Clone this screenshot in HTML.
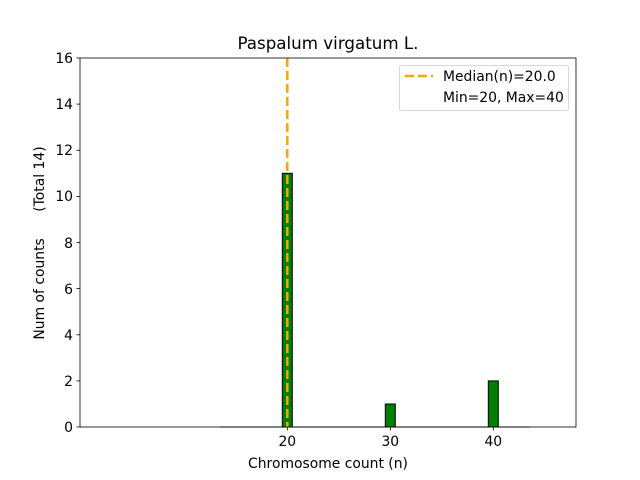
<!DOCTYPE html>
<html><head><style>body{margin:0;background:#fff}svg{display:block}text{font-family:"DejaVu Sans","Liberation Sans",sans-serif;font-size:13.9px;fill:#000}</style></head>
<body>
<svg width="640" height="480" xmlns="http://www.w3.org/2000/svg">
<rect width="640" height="480" fill="#fff"/>
<rect x="282.3" y="173.3" width="10" height="253.7" fill="#008000" stroke="#000" stroke-width="1"/>
<rect x="385.3" y="404" width="10" height="23" fill="#008000" stroke="#000" stroke-width="1"/>
<rect x="488.3" y="380.9" width="10" height="46.1" fill="#008000" stroke="#000" stroke-width="1"/>
<line x1="220" y1="427" x2="530" y2="427" stroke="#000" stroke-width="1"/>
<line x1="287.3" y1="58" x2="287.3" y2="427" stroke="#FFA500" stroke-width="2.5" stroke-dasharray="9,4"/>
<rect x="80" y="58" width="496" height="369" fill="none" stroke="#000" stroke-width="0.8"/>
<g stroke="#000" stroke-width="0.8">
<line x1="76.5" y1="427" x2="80" y2="427"/><line x1="76.5" y1="380.9" x2="80" y2="380.9"/>
<line x1="76.5" y1="334.8" x2="80" y2="334.8"/><line x1="76.5" y1="288.6" x2="80" y2="288.6"/>
<line x1="76.5" y1="242.5" x2="80" y2="242.5"/><line x1="76.5" y1="196.4" x2="80" y2="196.4"/>
<line x1="76.5" y1="150.3" x2="80" y2="150.3"/><line x1="76.5" y1="104.1" x2="80" y2="104.1"/>
<line x1="76.5" y1="58" x2="80" y2="58"/>
<line x1="287.3" y1="427" x2="287.3" y2="430.5"/><line x1="390.3" y1="427" x2="390.3" y2="430.5"/><line x1="493.3" y1="427" x2="493.3" y2="430.5"/>
</g>
<g text-anchor="end">
<text x="73" y="432">0</text><text x="73" y="386">2</text><text x="73" y="340">4</text>
<text x="73" y="294">6</text><text x="73" y="248">8</text><text x="73" y="201">10</text>
<text x="73" y="155">12</text><text x="73" y="109">14</text><text x="73" y="63">16</text>
</g>
<g text-anchor="middle">
<text x="287.3" y="446">20</text><text x="390.3" y="446">30</text><text x="493.3" y="446">40</text>
<text x="328" y="468">Chromosome count (n)</text>
<text x="328" y="49" style="font-size:16.7px">Paspalum virgatum L.</text>
</g>
<text transform="translate(44,243) rotate(-90)" text-anchor="middle" xml:space="preserve">Num of counts      (Total 14)</text>
<rect x="399.5" y="65.5" width="169" height="45" rx="2" fill="#fff" fill-opacity="0.8" stroke="#ccc" stroke-width="0.8"/>
<line x1="405" y1="76" x2="433" y2="76" stroke="#FFA500" stroke-width="2.5" stroke-dasharray="9,4"/>
<text x="443" y="81">Median(n)=20.0</text>
<text x="443" y="102">Min=20, Max=40</text>
</svg>
</body></html>
